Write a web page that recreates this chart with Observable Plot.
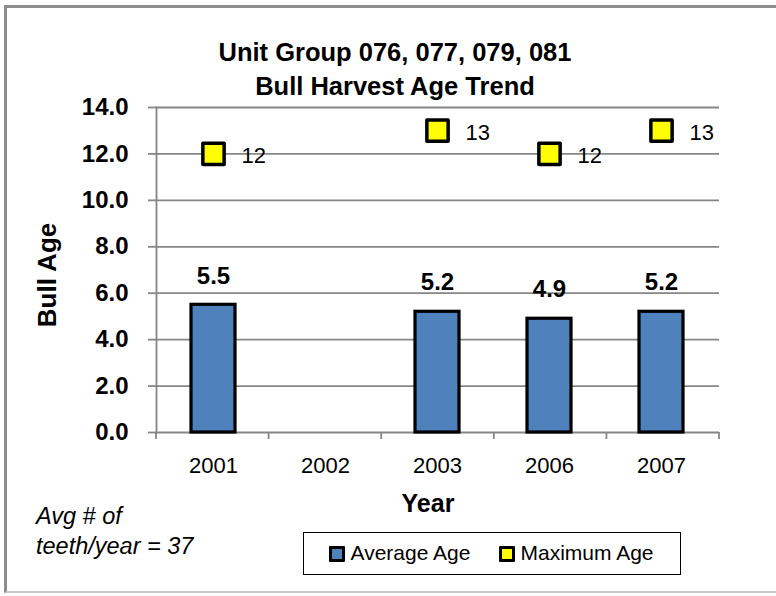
<!DOCTYPE html>
<html>
<head>
<meta charset="utf-8">
<script src="https://cdn.jsdelivr.net/npm/d3@7"></script>
<script src="https://cdn.jsdelivr.net/npm/@observablehq/plot@0.6"></script>
<style>
  html, body { margin: 0; padding: 0; background: #fff; }
  #wrap { position: relative; width: 776px; height: 596px; overflow: hidden; background: #fff;
          font-family: "Liberation Sans", Arial, sans-serif; color: #000; }
  #border { position: absolute; left: 4px; top: 5px; width: 800px; height: 588px;
            border-left: 3px solid #8c8c8c; border-top: 3px solid #8c8c8c; border-bottom: 2px solid #c8c8c8; box-sizing: border-box; }
  #chart { position: absolute; left: 0; top: 0; }
  .title { position: absolute; left: 0; width: 790px; top: 35px; text-align: center;
           font-size: 25.5px; font-weight: bold; line-height: 34px; white-space: nowrap; }
  .ylabel { position: absolute; left: -53px; top: 261.5px; width: 200px; height: 26px; line-height: 26px;
            text-align: center; font-size: 26px; font-weight: bold; transform: rotate(-90deg); white-space: nowrap; }
  .xlabel { position: absolute; left: 328px; width: 200px; top: 488px; text-align: center;
            font-size: 25px; font-weight: bold; line-height: 30px; }
  .note { position: absolute; left: 36px; top: 501px; font-size: 23.5px; font-style: italic; line-height: 30px; white-space: nowrap; }
  .legend { position: absolute; left: 303px; top: 532px; width: 378px; height: 43px; box-sizing: border-box;
            border: 1.5px solid #000; background: #fff; }
  .sw { position: absolute; top: 12.5px; width: 16px; height: 16px; box-sizing: border-box; border: 3px solid #000; border-radius: 1px; }
  .lt { position: absolute; top: 8.5px; font-size: 21px; line-height: 21px; white-space: nowrap; }
</style>
</head>
<body>
<div id="wrap">
  <div id="border"></div>
  <div id="chart"></div>
</div>
<script>
// ---- data ----
const titleLines = ["Unit Group 076, 077, 079, 081", "Bull Harvest Age Trend"];
const years = ["2001", "2002", "2003", "2006", "2007"];
const avgYears = ["2001", "2003", "2006", "2007"];
const avgAge = [5.5, 5.2, 4.9, 5.2];
const maxYears = ["2001", "2003", "2006", "2007"];
const maxAge = [12, 13, 12, 13];
const yTicks = [0, 2, 4, 6, 8, 10, 12, 14];
const seriesNames = ["Average Age", "Maximum Age"];
const seriesColors = ["#4F81BD", "#FFFF00"];
const yLabel = "Bull Age";
const xLabel = "Year";
const noteLines = ["Avg # of", "teeth/year = 37"];

// ---- build ----
const avgData = avgYears.map((y, i) => ({year: y, value: avgAge[i]}));
const maxData = maxYears.map((y, i) => ({year: y, value: maxAge[i]}));
const gray = "#868686";
const FONT = '"Liberation Sans", Arial, sans-serif';
const n = years.length;

function xEdgeTicks(index, scales, values, dims) {
  const left = dims.marginLeft, right = dims.width - dims.marginRight;
  const y0 = scales.y(0);
  const g = d3.create("svg:g").attr("stroke", gray).attr("stroke-width", 1.8);
  d3.range(n + 1).forEach(i => {
    const x = left + i * (right - left) / n;
    g.append("line").attr("x1", x).attr("x2", x).attr("y1", y0).attr("y2", y0 + 7);
  });
  return g.node();
}

const chart = Plot.plot({
  width: 776, height: 596,
  marginLeft: 156, marginRight: 57, marginTop: 107, marginBottom: 164,
  style: {fontFamily: FONT, background: "transparent", color: "#000", overflow: "visible"},
  x: {domain: years, paddingInner: 0.607, paddingOuter: 0.3035, label: null},
  y: {domain: [0, 14], label: null},
  marks: [
    Plot.ruleY(yTicks, {stroke: gray, strokeWidth: 1.8}),
    Plot.frame({anchor: "left", stroke: gray, strokeWidth: 1.8}),
    Plot.axisY(yTicks, {tickSize: 8, tickPadding: 20, tickFormat: d3.format(".1f"),
      fontSize: 24, fontWeight: "bold", stroke: gray, strokeWidth: 1.8, label: null}),
    Plot.axisX({tickSize: 0, tickPadding: 25, fontSize: 22, label: null}),
    xEdgeTicks,
    Plot.barY(avgData, {x: "year", y: "value", fill: seriesColors[0], stroke: "#000", strokeWidth: 3.2}),
    Plot.text(avgData, {x: "year", y: "value", text: d => d.value.toFixed(1), dy: -29,
      fontSize: 24, fontWeight: "bold", fill: "#000"}),
    Plot.dot(maxData, {x: "year", y: "value", symbol: "square", r: 12, fill: seriesColors[1],
      stroke: "#000", strokeWidth: 3.5, strokeLinejoin: "round"}),
    Plot.text(maxData, {x: "year", y: "value", text: d => String(d.value), dx: 28, dy: 2.5,
      textAnchor: "start", fontSize: 22, fill: "#000"})
  ]
});
document.getElementById("chart").appendChild(chart);

const wrap = d3.select("#wrap");
wrap.append("div").attr("class", "title").html(titleLines.join("<br>"));
wrap.append("div").attr("class", "ylabel").text(yLabel);
wrap.append("div").attr("class", "xlabel").text(xLabel);
wrap.append("div").attr("class", "note").html(noteLines.join("<br>"));
const lg = wrap.append("div").attr("class", "legend");
const swLeft = [24.5, 194.5], txtLeft = [46.5, 216.5];
seriesNames.forEach((s, i) => {
  lg.append("div").attr("class", "sw").style("left", swLeft[i] + "px").style("background", seriesColors[i]);
  lg.append("div").attr("class", "lt").style("left", txtLeft[i] + "px").text(s);
});
</script>
</body>
</html>
